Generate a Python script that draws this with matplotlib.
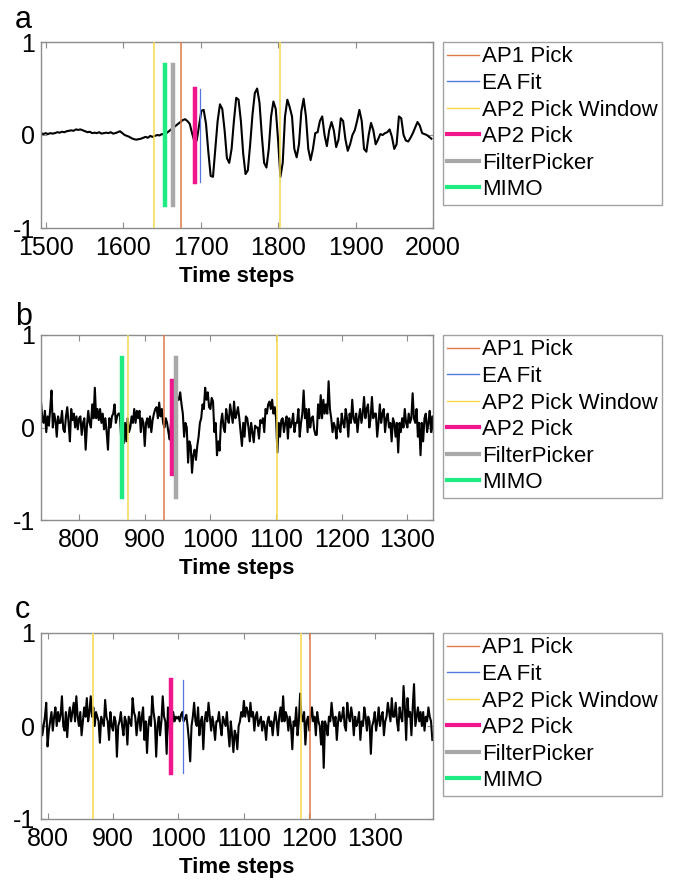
import numpy as np
import matplotlib
matplotlib.use("Agg")
import matplotlib.pyplot as plt
from matplotlib.lines import Line2D

plt.rcParams['font.family'] = ['Liberation Sans', 'DejaVu Sans']

# ---------------- data ----------------
start_a, step_a = 1494, 3
v_a = [0.02, 0.01, 0.02, 0.01, 0.02, 0.015, 0.02, 0.03, 0.025, 0.035,
       0.03, 0.04, 0.045, 0.05, 0.045, 0.06, 0.055, 0.06, 0.05, 0.04,
       0.03, 0.035, 0.02, 0.025, 0.02, 0.03, 0.015, 0.02, 0.025, 0.02,
       0.03, 0.015, 0.02, 0.03, 0.04, 0.02, 0.0, -0.01, -0.02, -0.035,
       -0.045, -0.05, -0.045, -0.04, -0.03, -0.02, -0.03, -0.01, -0.02, -0.01,
       0.0, -0.005, 0.01, 0.005, 0.02, 0.04, 0.06, 0.08, 0.1, 0.12,
       0.14, 0.16, 0.17, 0.15, 0.12, 0.02, -0.07, -0.06, 0.1, 0.26,
       0.27, 0.12, -0.18, -0.44, -0.45, -0.15, 0.15, 0.33, 0.28, 0.05,
       -0.25, -0.3, -0.15, 0.15, 0.4, 0.38, 0.15, -0.2, -0.42, -0.38,
       -0.1, 0.22, 0.45, 0.5, 0.35, 0.0, -0.3, -0.35, -0.15, 0.2,
       0.36, 0.28, -0.05, -0.45, -0.3, 0.2, 0.38, 0.3, 0.2, -0.15,
       -0.24, -0.1, 0.25, 0.39, 0.2, -0.15, -0.27, -0.15, 0.02, 0.03,
       0.15, 0.2, 0.0, -0.12, 0.05, 0.14, 0.05, -0.13, -0.05, 0.18,
       0.15, -0.05, -0.17, -0.1, 0.0, 0.05, 0.15, 0.27, 0.15, -0.15,
       -0.18, 0.0, 0.13, 0.05, -0.1, -0.05, 0.01, 0.0, 0.02, 0.03,
       0.06, -0.02, -0.15, -0.1, 0.2, 0.18, 0.0, -0.06, -0.07, -0.03,
       0.02, 0.08, 0.14, 0.1, 0.02, 0.01, 0.0, -0.02, -0.04]

start_b, step_b = 742, 2
v_b = [0.28, 0.1, 0.05, 0.18, -0.05, 0.12, 0.02, 0.2, 0.4, 0.0, 0.15, 0.08, -0.1, 0.12, 0.05,
       0.05, 0.18, -0.02, -0.05, 0.12, 0.22, 0.05, -0.15, 0.2, 0.08, 0.15, 0.0, 0.12, -0.02, 0.1,
       0.12, -0.08, 0.05, 0.1, -0.24, 0.02, 0.18, 0.05, 0.0, 0.25, 0.1, 0.43, 0.1, 0.2, 0.08,
       0.2, 0.05, 0.15, -0.02, 0.1, -0.05, -0.24, 0.1, 0.0, 0.12, 0.15, 0.25, 0.05, 0.12, 0.15,
       0.15, -0.1, 0.08, -0.17, 0.05, -0.15, 0.1, -0.05, 0.0, 0.12, 0.05, 0.2, 0.05, 0.18, 0.1,
       0.18, -0.05, 0.1, 0.05, -0.2, 0.05, 0.1, 0.0, 0.12, -0.05, 0.08, 0.15, 0.2, 0.22, 0.1,
       0.27, 0.12, 0.2, 0.05, 0.0, 0.1, 0.05, -0.05, -0.13, 0.05, 0.15, 0.35, 0.2, 0.4, 0.3,
       0.3, 0.38, 0.25, 0.15, -0.1, 0.05, 0.0, -0.38, -0.15, -0.2, -0.49, -0.3, -0.24, -0.35, -0.2,
       -0.1, 0.05, 0.1, 0.25, 0.2, 0.43, 0.3, 0.38, 0.22, 0.2, 0.32, 0.28, -0.05, 0.05, -0.3,
       -0.15, -0.25, 0.05, 0.15, 0.0, -0.05, 0.2, 0.1, 0.05, 0.25, 0.15, 0.05, 0.28, 0.1, 0.15,
       0.22, 0.1, -0.05, -0.2, 0.05, -0.1, 0.12, 0.1, 0.0, -0.15, 0.05, -0.05, -0.16, 0.02, 0.0,
       0.0, -0.12, 0.08, 0.05, 0.1, -0.05, 0.2, 0.15, 0.25, 0.28, 0.2, 0.3, 0.15, 0.22, 0.1,
       -0.27, 0.05, -0.1, 0.08, 0.1, -0.05, 0.05, 0.12, -0.12, 0.1, 0.0, 0.05, 0.15, -0.05, 0.05,
       0.05, 0.2, -0.1, 0.05, 0.15, 0.4, 0.1, 0.2, -0.05, 0.2, 0.0, 0.1, 0.12, -0.02, -0.08,
       -0.08, 0.25, 0.1, 0.35, 0.1, 0.3, 0.15, 0.25, 0.15, 0.5, 0.2, 0.1, -0.05, 0.05, 0.0,
       -0.12, 0.1, 0.0, -0.05, 0.15, 0.05, 0.0, 0.2, 0.1, -0.1, 0.15, 0.05, 0.3, 0.1, 0.05,
       0.15, -0.05, 0.1, 0.2, 0.05, 0.15, 0.33, 0.1, 0.2, 0.25, 0.0, 0.1, 0.33, 0.1, 0.15,
       0.15, -0.1, 0.05, 0.25, 0.05, 0.15, 0.2, -0.05, 0.1, 0.15, 0.0, 0.05, -0.15, 0.1, 0.05,
       -0.1, 0.05, -0.27, 0.05, -0.05, 0.1, 0.0, 0.2, 0.05, 0.0, 0.15, 0.05, 0.1, 0.37, 0.1,
       0.05, 0.2, -0.1, 0.05, -0.3, 0.05, -0.15, 0.1, 0.15, -0.05, 0.05, 0.18, -0.05, 0.12, -0.05]

start_c, step_c = 790, 2
v_c = [0.05, -0.1, 0.0, 0.1, 0.25, -0.22, -0.05, 0.05, 0.15, -0.05, 0.1, 0.2, 0.0, 0.15, 0.05,
       0.12, 0.32, 0.0, -0.05, 0.15, -0.12, 0.1, 0.2, 0.05, 0.15, 0.25, 0.05, 0.32, 0.1, 0.0,
       0.15, -0.1, 0.05, 0.2, 0.1, 0.3, 0.05, 0.15, 0.32, 0.1, 0.2, 0.0, 0.15, 0.1, 0.05,
       -0.18, 0.1, 0.05, 0.0, 0.28, 0.1, 0.05, -0.15, 0.15, 0.0, -0.05, 0.1, 0.05, -0.33, 0.0,
       0.05, 0.15, 0.0, -0.1, 0.1, 0.05, -0.2, 0.1, 0.05, 0.0, 0.3, 0.15, 0.1, -0.1, 0.05,
       0.15, -0.05, 0.1, 0.2, -0.15, 0.05, -0.29, 0.0, 0.1, 0.0, 0.32, 0.15, 0.05, -0.33, 0.0,
       0.1, -0.1, 0.05, 0.32, 0.1, 0.05, -0.3, 0.2, 0.05, -0.25, 0.0, 0.15, 0.05, 0.1, 0.08,
       0.1, 0.05, 0.12, 0.15, 0.05, 0.08, 0.12, 0.0, -0.15, -0.38, 0.0, 0.1, 0.25, 0.05, 0.0,
       0.2, -0.1, 0.05, 0.1, -0.25, 0.05, 0.15, 0.05, 0.25, 0.1, -0.05, 0.1, 0.0, -0.15, 0.05,
       0.05, 0.15, 0.0, -0.1, 0.1, 0.05, 0.0, 0.15, -0.05, -0.22, 0.05, -0.1, -0.28, -0.05, -0.1,
       -0.25, 0.0, 0.05, 0.15, 0.1, 0.27, 0.1, 0.2, 0.15, 0.05, 0.25, 0.1, 0.15, -0.05, 0.1,
       0.15, 0.0, 0.05, 0.1, -0.05, 0.05, 0.0, -0.15, 0.05, 0.1, 0.0, 0.05, -0.1, 0.05, 0.15,
       0.05, -0.1, 0.1, 0.2, 0.05, 0.32, 0.05, 0.15, 0.1, -0.05, 0.1, 0.0, -0.25, 0.05, 0.0,
       0.2, -0.1, 0.05, 0.35, 0.1, 0.05, 0.15, -0.2, 0.05, 0.1, -0.05, 0.1, 0.2, 0.05, 0.1,
       -0.1, 0.15, 0.05, 0.0, -0.2, 0.05, -0.45, 0.05, 0.0, -0.1, 0.1, 0.05, 0.25, 0.1, 0.0,
       0.1, -0.15, 0.05, 0.15, 0.05, 0.1, 0.2, 0.0, -0.05, 0.25, 0.1, 0.05, 0.2, 0.1, -0.1,
       0.1, 0.0, 0.05, 0.15, -0.15, 0.05, 0.0, 0.2, 0.1, -0.05, 0.1, 0.05, -0.3, 0.0, 0.05,
       0.15, -0.05, 0.05, 0.2, 0.0, 0.1, 0.15, -0.1, 0.05, 0.1, 0.25, 0.15, 0.05, 0.3, 0.1,
       0.1, 0.25, 0.05, -0.05, 0.2, 0.1, 0.05, 0.43, 0.2, -0.15, 0.3, 0.1, 0.15, -0.1, 0.2,
       0.45, 0.0, 0.1, 0.2, 0.05, 0.15, 0.0, 0.15, -0.05, 0.1, 0.05, 0.2, 0.1, 0.05, -0.15]

# pick positions per panel
ap1_pick = [1675, 930, 1201]
ea_fit = [1699, 941, 1007]
ap2_window = [(1640, 1803), (874, 1102), (869, 1187)]
ap2_pick = [1693, 941, 989]
filterpicker = [1664, 948, None]
mimo = [1654, 866, None]

xlims = [(1494, 2000), (742, 1339), (790, 1389)]
xticks = [[1500, 1600, 1700, 1800, 1900, 2000],
          [800, 900, 1000, 1100, 1200, 1300],
          [800, 900, 1000, 1100, 1200, 1300]]
panel_labels = ['a', 'b', 'c']
legend_labels = ['AP1 Pick', 'EA Fit', 'AP2 Pick Window', 'AP2 Pick',
                 'FilterPicker', 'MIMO']

# ---------------- style ----------------
c_ap1 = '#DE7A45'
c_ea = '#5577E0'
c_win = '#F5D94A'
c_ap2 = '#F0168C'
c_fp = '#A8A8A8'
c_mimo = '#1EEB82'
spine_col = '#8C8C8C'

W, H = 678, 881
fig = plt.figure(figsize=(W / 100, H / 100), dpi=100)

axes_px = [(41, 42, 433, 228), (41, 335, 433, 520), (41, 633, 433, 819)]
label_base = [28, 325, 618]

series = [(start_a, step_a, v_a), (start_b, step_b, v_b), (start_c, step_c, v_c)]

for i in range(3):
    x0, y0, x1, y1 = axes_px[i]
    ax = fig.add_axes([x0 / W, 1 - y1 / H, (x1 - x0) / W, (y1 - y0) / H])
    st, sp, vals = series[i]
    t = st + sp * np.arange(len(vals))
    ax.plot(t, vals, color='black', lw=1.5, zorder=2)

    w0, w1 = ap2_window[i]
    ax.plot([w0, w0], [-1, 1], color=c_win, lw=1.1, zorder=3)
    ax.plot([w1, w1], [-1, 1], color=c_win, lw=1.1, zorder=3)
    ax.plot([ap1_pick[i]] * 2, [-1, 1], color=c_ap1, lw=1.1, zorder=3)
    ax.plot([ea_fit[i]] * 2, [-0.5, 0.5], color=c_ea, lw=0.9, zorder=3)
    ax.plot([ap2_pick[i]] * 2, [-0.5, 0.5], color=c_ap2, lw=3.2, zorder=4)
    if filterpicker[i] is not None:
        ax.plot([filterpicker[i]] * 2, [-0.75, 0.75], color=c_fp, lw=3.2, zorder=4)
    if mimo[i] is not None:
        ax.plot([mimo[i]] * 2, [-0.75, 0.75], color=c_mimo, lw=3.2, zorder=4)

    ax.set_xlim(*xlims[i])
    ax.set_ylim(-1, 1)
    ax.set_xticks(xticks[i])
    ax.set_yticks([-1, 0, 1])
    ax.set_yticklabels(['-1', '0', '1'])
    ax.tick_params(direction='in', length=4, width=0.8, color=spine_col,
                   labelsize=18, top=True, right=True)
    ax.tick_params(axis='x', pad=6)
    ax.tick_params(axis='y', pad=4)
    for s in ax.spines.values():
        s.set_color(spine_col)
        s.set_linewidth(1.0)
    ax.set_xlabel('Time steps', fontsize=16, fontweight='bold', labelpad=4)

    fig.text(15 / W, 1 - label_base[i] / H, panel_labels[i], fontsize=22,
             va='baseline', ha='left')

    handles = [Line2D([], [], color=c_ap1, lw=1.0),
               Line2D([], [], color=c_ea, lw=1.0),
               Line2D([], [], color=c_win, lw=1.0),
               Line2D([], [], color=c_ap2, lw=3.0),
               Line2D([], [], color=c_fp, lw=3.0),
               Line2D([], [], color=c_mimo, lw=3.0)]
    leg = fig.legend(handles, legend_labels, loc='upper left',
                     bbox_to_anchor=(443 / W, 1 - y0 / H), fontsize=16,
                     frameon=True, fancybox=False, handlelength=1.4,
                     handletextpad=0.15, borderpad=0.2, labelspacing=0.25,
                     borderaxespad=0)
    leg.get_frame().set_edgecolor(spine_col)
    leg.get_frame().set_linewidth(1.0)

fig.savefig('out.png', dpi=100)
